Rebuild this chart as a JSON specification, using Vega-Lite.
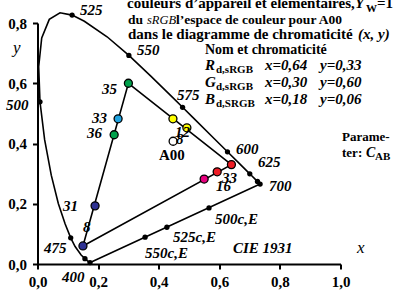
{
  "$schema": "https://vega.github.io/schema/vega-lite/v6.json",
  "width": 303,
  "height": 241,
  "autosize": "none",
  "padding": {"left": 37.5, "top": 23, "right": 56.5, "bottom": 26},
  "background": "white",
  "config": {"view": {"stroke": null}, "font": "Liberation Serif"},
  "datasets": {
    "locus": [
      {"o": 1, "nm": 380, "x": 0.1741, "y": 0.0050},
      {"o": 2, "nm": 400, "x": 0.1733, "y": 0.0048},
      {"o": 3, "nm": 420, "x": 0.1714, "y": 0.0051},
      {"o": 4, "nm": 440, "x": 0.1644, "y": 0.0109},
      {"o": 5, "nm": 450, "x": 0.1566, "y": 0.0177},
      {"o": 6, "nm": 460, "x": 0.1440, "y": 0.0297},
      {"o": 7, "nm": 470, "x": 0.1241, "y": 0.0578},
      {"o": 8, "nm": 475, "x": 0.1096, "y": 0.0868},
      {"o": 9, "nm": 480, "x": 0.0913, "y": 0.1327},
      {"o": 10, "nm": 485, "x": 0.0687, "y": 0.2007},
      {"o": 11, "nm": 490, "x": 0.0454, "y": 0.2950},
      {"o": 12, "nm": 495, "x": 0.0235, "y": 0.4127},
      {"o": 13, "nm": 500, "x": 0.0082, "y": 0.5384},
      {"o": 14, "nm": 505, "x": 0.0039, "y": 0.6548},
      {"o": 15, "nm": 510, "x": 0.0139, "y": 0.7502},
      {"o": 16, "nm": 515, "x": 0.0389, "y": 0.8120},
      {"o": 17, "nm": 520, "x": 0.0743, "y": 0.8338},
      {"o": 18, "nm": 525, "x": 0.1142, "y": 0.8262},
      {"o": 19, "nm": 530, "x": 0.1547, "y": 0.8059},
      {"o": 20, "nm": 540, "x": 0.2296, "y": 0.7543},
      {"o": 21, "nm": 550, "x": 0.3016, "y": 0.6923},
      {"o": 22, "nm": 560, "x": 0.3731, "y": 0.6245},
      {"o": 23, "nm": 570, "x": 0.4441, "y": 0.5547},
      {"o": 24, "nm": 575, "x": 0.4788, "y": 0.5202},
      {"o": 25, "nm": 580, "x": 0.5125, "y": 0.4866},
      {"o": 26, "nm": 590, "x": 0.5752, "y": 0.4242},
      {"o": 27, "nm": 600, "x": 0.6270, "y": 0.3725},
      {"o": 28, "nm": 610, "x": 0.6658, "y": 0.3340},
      {"o": 29, "nm": 620, "x": 0.6915, "y": 0.3083},
      {"o": 30, "nm": 625, "x": 0.7006, "y": 0.2993},
      {"o": 31, "nm": 630, "x": 0.7079, "y": 0.2920},
      {"o": 32, "nm": 640, "x": 0.7190, "y": 0.2809},
      {"o": 33, "nm": 650, "x": 0.7260, "y": 0.2740},
      {"o": 34, "nm": 660, "x": 0.7300, "y": 0.2700},
      {"o": 35, "nm": 680, "x": 0.7334, "y": 0.2666},
      {"o": 36, "nm": 700, "x": 0.7347, "y": 0.2653},
      {"o": 37, "nm": 380, "x": 0.1741, "y": 0.0050}
    ],
    "tri": [
      {"o": 1, "x": 0.15, "y": 0.06},
      {"o": 2, "x": 0.30, "y": 0.60},
      {"o": 3, "x": 0.64, "y": 0.33},
      {"o": 4, "x": 0.15, "y": 0.06}
    ],
    "dots": [
      {"x": 0.1733, "y": 0.0048},
      {"x": 0.1566, "y": 0.0177},
      {"x": 0.1096, "y": 0.0868},
      {"x": 0.0082, "y": 0.5384},
      {"x": 0.1142, "y": 0.8262},
      {"x": 0.3016, "y": 0.6923},
      {"x": 0.4788, "y": 0.5202},
      {"x": 0.6270, "y": 0.3725},
      {"x": 0.7006, "y": 0.2993},
      {"x": 0.7260, "y": 0.2740},
      {"x": 0.7347, "y": 0.2653},
      {"x": 0.566, "y": 0.186},
      {"x": 0.427, "y": 0.122},
      {"x": 0.355, "y": 0.089}
    ],
    "pts": [
      {"p": "G35", "x": 0.30, "y": 0.60},
      {"p": "C33", "x": 0.266, "y": 0.482},
      {"p": "G36", "x": 0.253, "y": 0.429},
      {"p": "B31", "x": 0.19, "y": 0.193},
      {"p": "B8", "x": 0.15, "y": 0.06},
      {"p": "Ybig", "x": 0.447, "y": 0.482},
      {"p": "Y12", "x": 0.493, "y": 0.452},
      {"p": "A00", "x": 0.4476, "y": 0.4074},
      {"p": "R33", "x": 0.593, "y": 0.306},
      {"p": "R", "x": 0.64, "y": 0.33},
      {"p": "M16", "x": 0.55, "y": 0.282}
    ],
    "bi15": [
      {"t": "525", "x": 0.1403, "y": 0.8266},
      {"t": "550", "x": 0.3284, "y": 0.6938},
      {"t": "575", "x": 0.4604, "y": 0.5444},
      {"t": "600", "x": 0.6551, "y": 0.3651},
      {"t": "625", "x": 0.7277, "y": 0.322},
      {"t": "700", "x": 0.764, "y": 0.2423},
      {"t": "500", "x": -0.104, "y": 0.5112},
      {"t": "475", "x": 0.0215, "y": 0.0365},
      {"t": "400", "x": 0.0809, "y": -0.0598},
      {"t": "500c,E", "x": 0.5858, "y": 0.1328},
      {"t": "525c,E", "x": 0.4472, "y": 0.073},
      {"t": "550c,E", "x": 0.3548, "y": 0.0199},
      {"t": "35", "x": 0.2129, "y": 0.5643},
      {"t": "33", "x": 0.1799, "y": 0.468},
      {"t": "36", "x": 0.1634, "y": 0.4183},
      {"t": "31", "x": 0.0842, "y": 0.1759},
      {"t": "8", "x": 0.1502, "y": 0.1062},
      {"t": "12", "x": 0.4538, "y": 0.4216},
      {"t": "8", "x": 0.4571, "y": 0.3983},
      {"t": "33", "x": 0.6089, "y": 0.2689},
      {"t": "16", "x": 0.5891, "y": 0.2423},
      {"t": "CIE 1931", "x": 0.6452, "y": 0.0365},
      {"t": "Y", "x": 1.0479, "y": 0.8498},
      {"t": "(x, y)", "x": 1.0578, "y": 0.7469},
      {"t": "x=0,64", "x": 0.7508, "y": 0.644},
      {"t": "y=0,33", "x": 0.9323, "y": 0.644},
      {"t": "x=0,30", "x": 0.7508, "y": 0.5876},
      {"t": "y=0,60", "x": 0.9323, "y": 0.5876},
      {"t": "x=0,18", "x": 0.7508, "y": 0.5311},
      {"t": "y=0,06", "x": 0.9323, "y": 0.5311},
      {"t": "R", "x": 0.5528, "y": 0.644},
      {"t": "G", "x": 0.5528, "y": 0.5876},
      {"t": "B", "x": 0.5528, "y": 0.5311}
    ],
    "bi14": [
      {"t": "C", "x": 1.0842, "y": 0.3552}
    ],
    "b15": [
      {"t": "couleurs d’appareil et élémentaires, ", "x": 0.2954, "y": 0.8498},
      {"t": "=1", "x": 1.1205, "y": 0.8498},
      {"t": "dans le diagramme de chromaticité ", "x": 0.2987, "y": 0.7469},
      {"t": "A00", "x": 0.401, "y": 0.3452}
    ],
    "b135": [
      {"t": "du", "x": 0.2987, "y": 0.7967},
      {"t": "l’espace de couleur pour A00", "x": 0.4571, "y": 0.7967}
    ],
    "b14": [
      {"t": "Nom et chromaticité", "x": 0.5528, "y": 0.6971}
    ],
    "b13": [
      {"t": "Parame-", "x": 1.005, "y": 0.4083},
      {"t": "ter:", "x": 1.005, "y": 0.3552}
    ],
    "i125": [
      {"t": "sRGB", "x": 0.3614, "y": 0.7967}
    ],
    "b11": [
      {"t": "W", "x": 1.0842, "y": 0.8365},
      {"t": "d,sRGB", "x": 0.5891, "y": 0.634},
      {"t": "d,sRGB", "x": 0.5891, "y": 0.5776},
      {"t": "d,SRGB", "x": 0.5891, "y": 0.5212},
      {"t": "AB", "x": 1.1139, "y": 0.3452}
    ],
    "i17": [
      {"t": "x", "x": 1.0545, "y": 0.0365},
      {"t": "y", "x": -0.0809, "y": 0.7004}
    ]
  },
  "encoding": {
    "x": {
      "field": "x", "type": "quantitative",
      "scale": {"domain": [0, 1], "nice": false, "zero": false},
      "axis": {
        "title": null, "grid": false, "values": [0, 0.2, 0.4, 0.6, 0.8, 1.0],
        "labelExpr": "replace(format(datum.value, '.1f'), '.', ',')",
        "labelFont": "Liberation Serif", "labelFontWeight": "bold", "labelFontSize": 15,
        "labelColor": "black", "labelPadding": 5, "labelFlush": false,
        "domainColor": "black", "domainWidth": 2, "tickColor": "black", "tickWidth": 2, "tickSize": 5
      }
    },
    "y": {
      "field": "y", "type": "quantitative",
      "scale": {"domain": [0, 0.8], "nice": false, "zero": false},
      "axis": {
        "title": null, "grid": false, "values": [0, 0.2, 0.4, 0.6, 0.8],
        "labelExpr": "replace(format(datum.value, '.1f'), '.', ',')",
        "labelFont": "Liberation Serif", "labelFontWeight": "bold", "labelFontSize": 15,
        "labelColor": "black", "labelPadding": 6, "labelFlush": false,
        "domainColor": "black", "domainWidth": 2, "tickColor": "black", "tickWidth": 2, "tickSize": 5
      }
    }
  },
  "layer": [
    {
      "data": {"name": "locus"},
      "mark": {"type": "line", "color": "black", "strokeWidth": 1.6, "clip": false},
      "encoding": {"order": {"field": "o", "type": "quantitative"}}
    },
    {
      "data": {"name": "tri"},
      "mark": {"type": "line", "color": "black", "strokeWidth": 1.6, "clip": false},
      "encoding": {"order": {"field": "o", "type": "quantitative"}}
    },
    {
      "data": {"name": "dots"},
      "mark": {"type": "circle", "color": "black", "opacity": 1, "size": 28, "clip": false},
      "encoding": {}
    },
    {
      "data": {"name": "pts"},
      "mark": {"type": "point", "shape": "circle", "filled": true, "opacity": 1, "stroke": "black", "strokeWidth": 1.3, "clip": false},
      "encoding": {
        "fill": {
          "field": "p", "type": "nominal", "legend": null,
          "scale": {
            "domain": ["G35", "C33", "G36", "B31", "B8", "Ybig", "Y12", "A00", "R33", "R", "M16"],
            "range": ["#00a14b", "#1fa3e0", "#00a14b", "#2e3192", "#2e3192", "#ffff00", "#ffff00", "#ffffff", "#ee1c25", "#ee1c25", "#e6007e"]
          }
        },
        "size": {
          "field": "p", "type": "nominal", "legend": null,
          "scale": {
            "domain": ["G35", "C33", "G36", "B31", "B8", "Ybig", "Y12", "A00", "R33", "R", "M16"],
            "range": [64, 64, 196, 225, 64, 196, 64, 121, 225, 64, 64]
          }
        }
      }
    },
    {
      "data": {"name": "bi15"},
      "mark": {"type": "text", "align": "left", "baseline": "alphabetic", "font": "Liberation Serif", "fontSize": 15, "fontWeight": "bold", "fontStyle": "italic", "color": "black", "clip": false},
      "encoding": {"text": {"field": "t"}}
    },
    {
      "data": {"name": "bi14"},
      "mark": {"type": "text", "align": "left", "baseline": "alphabetic", "font": "Liberation Serif", "fontSize": 14, "fontWeight": "bold", "fontStyle": "italic", "color": "black", "clip": false},
      "encoding": {"text": {"field": "t"}}
    },
    {
      "data": {"name": "b15"},
      "mark": {"type": "text", "align": "left", "baseline": "alphabetic", "font": "Liberation Serif", "fontSize": 15, "fontWeight": "bold", "color": "black", "clip": false},
      "encoding": {"text": {"field": "t"}}
    },
    {
      "data": {"name": "b135"},
      "mark": {"type": "text", "align": "left", "baseline": "alphabetic", "font": "Liberation Serif", "fontSize": 13.5, "fontWeight": "bold", "color": "black", "clip": false},
      "encoding": {"text": {"field": "t"}}
    },
    {
      "data": {"name": "b14"},
      "mark": {"type": "text", "align": "left", "baseline": "alphabetic", "font": "Liberation Serif", "fontSize": 14, "fontWeight": "bold", "color": "black", "clip": false},
      "encoding": {"text": {"field": "t"}}
    },
    {
      "data": {"name": "b13"},
      "mark": {"type": "text", "align": "left", "baseline": "alphabetic", "font": "Liberation Serif", "fontSize": 13, "fontWeight": "bold", "color": "black", "clip": false},
      "encoding": {"text": {"field": "t"}}
    },
    {
      "data": {"name": "i125"},
      "mark": {"type": "text", "align": "left", "baseline": "alphabetic", "font": "Liberation Serif", "fontSize": 12.5, "fontStyle": "italic", "color": "black", "clip": false},
      "encoding": {"text": {"field": "t"}}
    },
    {
      "data": {"name": "b11"},
      "mark": {"type": "text", "align": "left", "baseline": "alphabetic", "font": "Liberation Serif", "fontSize": 11, "fontWeight": "bold", "color": "black", "clip": false},
      "encoding": {"text": {"field": "t"}}
    },
    {
      "data": {"name": "i17"},
      "mark": {"type": "text", "align": "left", "baseline": "alphabetic", "font": "Liberation Serif", "fontSize": 17, "fontStyle": "italic", "color": "black", "clip": false},
      "encoding": {"text": {"field": "t"}}
    }
  ]
}
